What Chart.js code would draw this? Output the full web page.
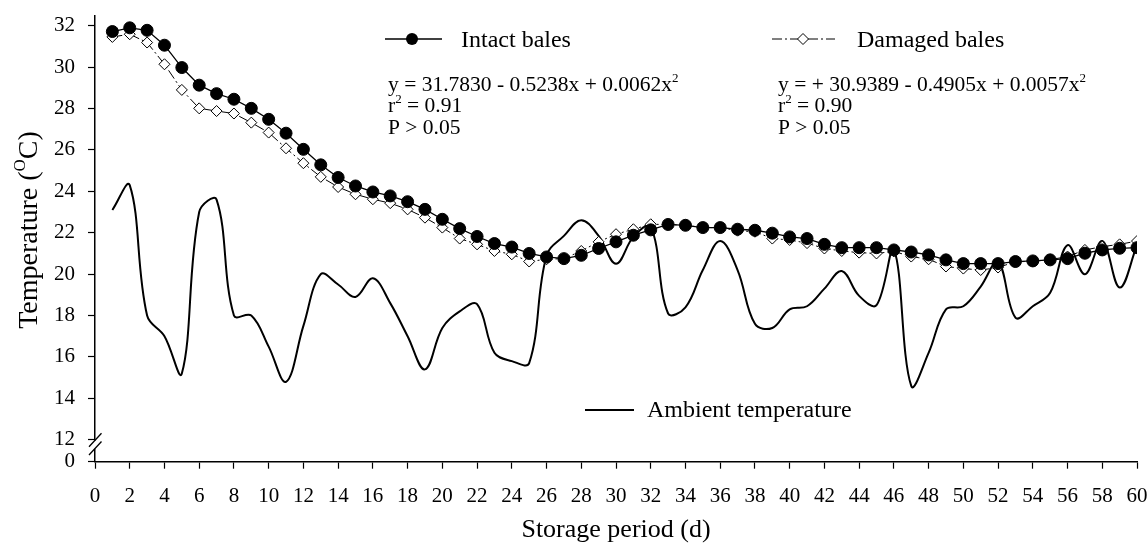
<!DOCTYPE html>
<html>
<head>
<meta charset="utf-8">
<script src="https://cdn.jsdelivr.net/npm/chart.js@4/dist/chart.umd.min.js"></script>
<style>
  html, body { margin: 0; padding: 0; background: #fff; }
  #wrap { width: 1147px; height: 549px; position: relative; }
</style>
</head>
<body>
<div id="wrap"><canvas id="c"></canvas></div>
<script>
// ---------------- DATA ----------------
const days = [1,2,3,4,5,6,7,8,9,10,11,12,13,14,15,16,17,18,19,20,
              21,22,23,24,25,26,27,28,29,30,31,32,33,34,35,36,37,38,39,40,
              41,42,43,44,45,46,47,48,49,50,51,52,53,54,55,56,57,58,59,60];

const intactBales = [31.72,31.90,31.78,31.06,29.98,29.13,28.72,28.45,28.01,27.48,
                     26.81,26.03,25.28,24.67,24.26,23.97,23.78,23.50,23.13,22.65,
                     22.20,21.82,21.48,21.31,21.00,20.83,20.75,20.91,21.24,21.56,
                     21.88,22.14,22.40,22.36,22.25,22.25,22.17,22.12,21.98,21.80,
                     21.72,21.44,21.28,21.28,21.28,21.17,21.07,20.93,20.69,20.51,
                     20.51,20.51,20.61,20.64,20.69,20.75,21.01,21.17,21.25,21.28];

const damagedBales = [31.46,31.59,31.19,30.14,28.90,28.01,27.88,27.76,27.32,26.84,
                      26.08,25.36,24.70,24.21,23.86,23.62,23.43,23.13,22.73,22.25,
                      21.72,21.44,21.12,20.96,20.61,20.72,20.75,21.12,21.56,21.93,
                      22.17,22.41,22.40,22.36,22.25,22.25,22.10,22.05,21.72,21.65,
                      21.50,21.24,21.12,21.04,21.00,21.10,20.85,20.72,20.37,20.27,
                      20.20,20.32,20.60,20.62,20.70,20.85,21.17,21.33,21.44,21.60];

const ambientTemp = [23.1,24.3,18.0,17.0,15.2,23.0,23.6,18.0,18.0,16.5,
                     14.8,17.5,20.0,19.5,18.9,19.8,18.6,17.0,15.4,17.4,
                     18.2,18.55,16.2,15.8,15.7,20.9,21.85,22.6,21.85,20.5,
                     21.8,22.3,18.1,18.4,20.2,21.6,20.2,17.6,17.4,18.3,
                     18.45,19.3,20.15,18.95,18.5,21.2,14.6,16.2,18.3,18.45,
                     19.4,20.6,17.9,18.45,19.1,21.4,20.0,21.6,19.35,21.4];

const xTickValues = [0,2,4,6,8,10,12,14,16,18,20,22,24,26,28,30,32,34,36,38,40,42,44,46,48,50,52,54,56,58,60];
const yTickValues = [12,14,16,18,20,22,24,26,28,30,32];
const yBreakValue = 10.94;      // position on the broken axis where "0" is shown
const yBreakLabel = '0';

const seriesNames = ['Intact bales', 'Damaged bales', 'Ambient temperature'];
const intactStats = [['y = 31.7830 - 0.5238x + 0.0062x', '2'], ['r', '2', ' = 0.91'], ['P > 0.05']];
const damagedStats = [['y = + 30.9389 - 0.4905x + 0.0057x', '2'], ['r', '2', ' = 0.90'], ['P > 0.05']];
const xTitle = 'Storage period (d)';
const yTitleParts = ['Temperature (', 'O', 'C)'];

// ---------------- CHART ----------------
const FONT = '"Liberation Serif", "Times New Roman", Times, serif';
const toXY = (vals) => vals.map((v, i) => ({ x: days[i], y: v }));

function drawRich(ctx, parts, x, y, size) {
  let cx = x;
  parts.forEach((p, i) => {
    if (i % 2 === 1) {
      ctx.font = Math.round(size * 0.62) + 'px ' + FONT;
      ctx.fillText(p, cx, y - size * 0.42);
    } else {
      ctx.font = size + 'px ' + FONT;
      ctx.fillText(p, cx, y);
    }
    cx += ctx.measureText(p).width;
  });
  return cx - x;
}
function richWidth(ctx, parts, size) {
  let w = 0;
  parts.forEach((p, i) => {
    ctx.font = (i % 2 === 1 ? Math.round(size * 0.62) : size) + 'px ' + FONT;
    w += ctx.measureText(p).width;
  });
  return w;
}

const overlay = {
  id: 'overlay',
  afterDraw(chart) {
    const ctx = chart.ctx;
    const ys = chart.scales.y;
    ctx.save();
    ctx.fillStyle = '#000';
    ctx.strokeStyle = '#000';
    ctx.textAlign = 'left';
    ctx.textBaseline = 'alphabetic';

    // ----- axis break on y axis -----
    const ax = ys.right;
    const y12 = ys.getPixelForValue(12);
    ctx.fillStyle = '#fff';
    ctx.fillRect(ax - 3, y12 + 1, 6, 8);
    ctx.fillStyle = '#000';
    ctx.lineWidth = 1.3;
    ctx.beginPath();
    ctx.moveTo(ax - 6, y12 + 7); ctx.lineTo(ax + 6.5, y12 - 6.5);
    ctx.moveTo(ax - 6, y12 + 15.3); ctx.lineTo(ax + 6.5, y12 + 1.8);
    ctx.stroke();

    // ----- y axis title with superscript -----
    const ySize = 28;
    const tw = richWidth(ctx, yTitleParts, ySize);
    ctx.save();
    ctx.translate(37, 230);
    ctx.rotate(-Math.PI / 2);
    drawRich(ctx, yTitleParts, -tw / 2, 0, ySize);
    ctx.restore();

    // ----- legend: Intact bales -----
    ctx.lineWidth = 1.3;
    ctx.setLineDash([]);
    ctx.beginPath(); ctx.moveTo(385, 39); ctx.lineTo(442, 39); ctx.stroke();
    ctx.beginPath(); ctx.arc(412, 39, 6, 0, Math.PI * 2); ctx.fill();
    ctx.font = '24px ' + FONT;
    ctx.fillText(seriesNames[0], 461, 47);
    let by = 91;
    intactStats.forEach(parts => {
      drawRich(ctx, parts, 388, by, 21.5);
      by += 21.4;
    });

    // ----- legend: Damaged bales -----
    ctx.lineWidth = 1;
    ctx.setLineDash([10, 3, 2, 3]);
    ctx.beginPath(); ctx.moveTo(772, 39); ctx.lineTo(835, 39); ctx.stroke();
    ctx.setLineDash([]);
    ctx.fillStyle = '#fff';
    ctx.beginPath();
    ctx.moveTo(803, 33.5); ctx.lineTo(808.5, 39); ctx.lineTo(803, 44.5); ctx.lineTo(797.5, 39); ctx.closePath();
    ctx.fill(); ctx.stroke();
    ctx.fillStyle = '#000';
    ctx.font = '24px ' + FONT;
    ctx.fillText(seriesNames[1], 857, 47);
    by = 91;
    damagedStats.forEach(parts => {
      drawRich(ctx, parts, 778, by, 21.5);
      by += 21.4;
    });

    // ----- legend: Ambient temperature -----
    ctx.lineWidth = 2;
    ctx.beginPath(); ctx.moveTo(585, 410); ctx.lineTo(634, 410); ctx.stroke();
    ctx.font = '24px ' + FONT;
    ctx.fillText(seriesNames[2], 647, 417);

    ctx.restore();
  }
};

new Chart(document.getElementById('c'), {
  type: 'line',
  data: {
    datasets: [
      {
        label: seriesNames[0],
        data: toXY(intactBales),
        borderColor: '#000',
        borderWidth: 1.3,
        backgroundColor: '#000',
        pointStyle: 'circle',
        pointRadius: 6,
        pointBackgroundColor: '#000',
        pointBorderColor: '#000',
        pointBorderWidth: 1,
        tension: 0,
        order: 0
      },
      {
        label: seriesNames[1],
        data: toXY(damagedBales),
        borderColor: '#000',
        borderWidth: 1,
        borderDash: [10, 3, 2, 3],
        backgroundColor: '#fff',
        pointStyle: 'rectRot',
        pointRadius: 5.5,
        pointBackgroundColor: '#fff',
        pointBorderColor: '#000',
        pointBorderWidth: 1,
        tension: 0,
        order: 1
      },
      {
        label: seriesNames[2],
        data: toXY(ambientTemp),
        borderColor: '#000',
        borderWidth: 2,
        pointRadius: 0,
        tension: 0.38,
        order: 2
      }
    ]
  },
  options: {
    responsive: true,
    maintainAspectRatio: false,
    animation: false,
    devicePixelRatio: 1,
    layout: { padding: { top: 15.4, right: 10, left: 0, bottom: 0 } },
    plugins: { legend: { display: false }, tooltip: { enabled: false } },
    scales: {
      x: {
        type: 'linear',
        min: 0, max: 60,
        afterBuildTicks: s => { s.ticks = xTickValues.map(v => ({ value: v })); },
        afterFit: s => { s.height = 87.3; s.paddingLeft = 0; s.paddingRight = 0; },
        grid: { display: true, drawOnChartArea: false, drawTicks: true, tickLength: 7, color: '#000', tickWidth: 1.2 },
        border: { display: true, color: '#000', width: 1.5 },
        ticks: { autoSkip: false, maxRotation: 0, padding: 15, color: '#000', font: { family: FONT, size: 21 } },
        title: { display: true, text: xTitle, color: '#000', font: { family: FONT, size: 26 }, padding: { top: 0, bottom: 3 } }
      },
      y: {
        type: 'linear',
        min: yBreakValue, max: 32.5,
        afterBuildTicks: s => { s.ticks = [yBreakValue].concat(yTickValues).map(v => ({ value: v })); },
        afterFit: s => { s.width = 95; s.paddingTop = 0; s.paddingBottom = 0; },
        grid: { display: true, drawOnChartArea: false, drawTicks: true, tickLength: 7, color: '#000', tickWidth: 1.2 },
        border: { display: true, color: '#000', width: 1.5 },
        ticks: {
          autoSkip: false, padding: 13, color: '#000', font: { family: FONT, size: 21 },
          callback: v => (v < 12 ? yBreakLabel : String(v))
        },
        title: { display: false }
      }
    }
  },
  plugins: [overlay]
});
</script>
</body>
</html>
